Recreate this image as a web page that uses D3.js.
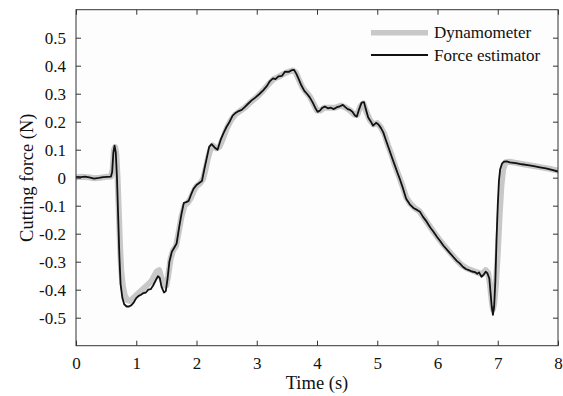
<!DOCTYPE html>
<html><head><meta charset="utf-8">
<script src="https://cdn.jsdelivr.net/npm/d3@7/dist/d3.min.js"></script>
<style>
html,body{margin:0;padding:0;background:#fff;}
svg{display:block;}
text{font-family:"Liberation Serif","Times New Roman",serif;fill:#111;}
</style></head>
<body>
<svg id="chart" width="563" height="396"></svg>
<script>
// ---- data ----
const xTicks = [0,1,2,3,4,5,6,7,8];
const yTicks = [-0.5,-0.4,-0.3,-0.2,-0.1,0,0.1,0.2,0.3,0.4,0.5];
const yTickLabels = ["-0.5","-0.4","-0.3","-0.2","-0.1","0","0.1","0.2","0.3","0.4","0.5"];
const seriesNames = ["Dynamometer","Force estimator"];

const dynamometer = [[0.00,0.002],[0.1,0.003],[0.2,0.002],[0.3,-0.002],[0.4,0.0],[0.5,0.003],[0.58,0.004],[0.61,0.03],[0.63,0.1],[0.65,0.11],[0.67,0.08],[0.69,0.0],[0.71,-0.12],[0.73,-0.24],[0.75,-0.33],[0.78,-0.39],[0.81,-0.42],[0.85,-0.437],[0.90,-0.44],[0.95,-0.43],[1.00,-0.42],[1.05,-0.41],[1.10,-0.40],[1.15,-0.39],[1.20,-0.38],[1.25,-0.37],[1.30,-0.35],[1.34,-0.335],[1.38,-0.33],[1.42,-0.36],[1.46,-0.385],[1.50,-0.385],[1.53,-0.35],[1.57,-0.29],[1.61,-0.26],[1.66,-0.245],[1.70,-0.2],[1.75,-0.14],[1.80,-0.1],[1.85,-0.09],[1.90,-0.075],[1.95,-0.05],[2.00,-0.03],[2.06,-0.02],[2.11,-0.005],[2.15,0.03],[2.19,0.07],[2.23,0.1],[2.27,0.115],[2.33,0.105],[2.38,0.11],[2.44,0.14],[2.50,0.175],[2.57,0.205],[2.64,0.225],[2.72,0.238],[2.80,0.25],[2.90,0.27],[3.00,0.288],[3.10,0.31],[3.20,0.335],[3.28,0.352],[3.36,0.36],[3.44,0.37],[3.52,0.378],[3.60,0.383],[3.65,0.375],[3.70,0.35],[3.76,0.322],[3.82,0.305],[3.88,0.29],[3.94,0.265],[4.00,0.24],[4.06,0.24],[4.12,0.25],[4.20,0.25],[4.30,0.25],[4.40,0.258],[4.48,0.25],[4.55,0.24],[4.62,0.225],[4.67,0.225],[4.72,0.255],[4.77,0.265],[4.82,0.235],[4.88,0.205],[4.94,0.19],[5.00,0.195],[5.06,0.18],[5.12,0.155],[5.18,0.115],[5.24,0.08],[5.30,0.04],[5.36,0.005],[5.42,-0.03],[5.48,-0.07],[5.55,-0.093],[5.62,-0.108],[5.70,-0.12],[5.78,-0.145],[5.86,-0.17],[5.94,-0.195],[6.02,-0.218],[6.10,-0.24],[6.20,-0.265],[6.30,-0.29],[6.40,-0.312],[6.50,-0.325],[6.60,-0.333],[6.68,-0.34],[6.74,-0.345],[6.80,-0.33],[6.84,-0.34],[6.87,-0.38],[6.90,-0.44],[6.92,-0.47],[6.94,-0.45],[6.97,-0.38],[7.00,-0.27],[7.03,-0.14],[7.06,-0.03],[7.09,0.03],[7.13,0.055],[7.20,0.057],[7.30,0.053],[7.45,0.047],[7.60,0.042],[7.75,0.036],[7.90,0.03],[8.00,0.025]];

const forceEstimator = [[0.00,0.003],[0.08,0.002],[0.15,0.004],[0.22,0.001],[0.30,-0.003],[0.38,-0.001],[0.45,0.002],[0.52,0.003],[0.58,0.004],[0.60,0.02],[0.62,0.09],[0.64,0.114],[0.66,0.09],[0.68,0.0],[0.70,-0.14],[0.72,-0.28],[0.74,-0.38],[0.77,-0.43],[0.80,-0.452],[0.84,-0.46],[0.88,-0.46],[0.92,-0.455],[0.96,-0.445],[1.00,-0.43],[1.04,-0.422],[1.08,-0.418],[1.12,-0.412],[1.16,-0.41],[1.20,-0.40],[1.24,-0.398],[1.28,-0.385],[1.32,-0.368],[1.36,-0.352],[1.39,-0.358],[1.42,-0.39],[1.46,-0.41],[1.49,-0.405],[1.52,-0.36],[1.55,-0.30],[1.59,-0.265],[1.63,-0.25],[1.67,-0.235],[1.71,-0.18],[1.75,-0.13],[1.79,-0.09],[1.83,-0.087],[1.87,-0.083],[1.91,-0.06],[1.95,-0.04],[2.00,-0.026],[2.05,-0.018],[2.09,-0.012],[2.13,0.03],[2.17,0.07],[2.21,0.11],[2.25,0.12],[2.30,0.108],[2.35,0.10],[2.40,0.135],[2.45,0.16],[2.50,0.182],[2.55,0.2],[2.60,0.222],[2.64,0.23],[2.70,0.238],[2.75,0.242],[2.80,0.252],[2.86,0.265],[2.92,0.277],[2.98,0.287],[3.04,0.298],[3.11,0.313],[3.17,0.328],[3.22,0.345],[3.27,0.355],[3.31,0.352],[3.36,0.362],[3.42,0.364],[3.47,0.379],[3.53,0.378],[3.58,0.384],[3.62,0.385],[3.66,0.37],[3.70,0.35],[3.74,0.33],[3.79,0.31],[3.84,0.298],[3.88,0.287],[3.93,0.268],[3.97,0.25],[4.01,0.235],[4.05,0.24],[4.09,0.25],[4.13,0.254],[4.18,0.248],[4.23,0.25],[4.28,0.245],[4.33,0.252],[4.38,0.255],[4.43,0.26],[4.47,0.252],[4.51,0.245],[4.55,0.242],[4.59,0.235],[4.63,0.222],[4.66,0.218],[4.70,0.245],[4.74,0.268],[4.78,0.27],[4.81,0.245],[4.85,0.215],[4.89,0.202],[4.93,0.186],[4.98,0.196],[5.02,0.19],[5.06,0.178],[5.10,0.162],[5.15,0.13],[5.20,0.10],[5.24,0.075],[5.29,0.045],[5.34,0.015],[5.38,-0.008],[5.43,-0.04],[5.48,-0.075],[5.54,-0.095],[5.60,-0.108],[5.66,-0.115],[5.71,-0.122],[5.76,-0.14],[5.82,-0.157],[5.88,-0.178],[5.93,-0.192],[5.99,-0.211],[6.05,-0.228],[6.10,-0.243],[6.16,-0.258],[6.21,-0.27],[6.27,-0.285],[6.32,-0.297],[6.37,-0.306],[6.42,-0.318],[6.47,-0.326],[6.52,-0.33],[6.57,-0.335],[6.62,-0.337],[6.66,-0.343],[6.69,-0.338],[6.73,-0.354],[6.77,-0.345],[6.80,-0.336],[6.83,-0.342],[6.86,-0.36],[6.88,-0.41],[6.90,-0.46],[6.92,-0.49],[6.94,-0.46],[6.96,-0.37],[6.98,-0.22],[7.00,-0.10],[7.02,-0.01],[7.04,0.03],[7.07,0.05],[7.10,0.057],[7.15,0.058],[7.20,0.055],[7.30,0.052],[7.40,0.048],[7.50,0.045],[7.60,0.041],[7.70,0.037],[7.80,0.033],[7.90,0.028],[8.00,0.022]];

// ---- layout ----
const L = 76, R = 558, T = 9.7, B = 345.7;
const svg = d3.select("#chart");
const x = d3.scaleLinear().domain([0,8]).range([L,R]);
const y = d3.scaleLinear().domain([-0.6,0.6]).range([B,T]);

svg.append("rect").attr("x",L).attr("y",T).attr("width",R-L).attr("height",B-T).attr("fill","#fdfdfd");

svg.append("clipPath").attr("id","clip").append("rect")
  .attr("x",L).attr("y",T).attr("width",R-L).attr("height",B-T);

const line = d3.line().x(d=>x(d[0])).y(d=>y(d[1]));
const g = svg.append("g").attr("clip-path","url(#clip)");
g.append("path").datum(dynamometer).attr("d",line)
  .attr("fill","none").attr("stroke","#c8c8c8").attr("stroke-width",6)
  .attr("stroke-linejoin","round").attr("stroke-linecap","round");
g.append("path").datum(forceEstimator).attr("d",line)
  .attr("fill","none").attr("stroke","#111").attr("stroke-width",1.8)
  .attr("stroke-linejoin","round");

// axes (ticks inward on all four sides)
const axStyle = sel => {
  sel.select(".domain").remove();
  sel.selectAll(".tick line").attr("stroke","#333");
  sel.selectAll(".tick text").style("font-size","17px").style("font-family","'Liberation Serif',serif").attr("fill","#111");
};
svg.append("g").attr("transform",`translate(0,${B})`)
  .call(d3.axisBottom(x).tickValues(xTicks).tickFormat(d3.format("d")).tickSizeInner(-5).tickSizeOuter(0).tickPadding(11))
  .call(axStyle);
svg.append("g").attr("transform",`translate(0,${T})`)
  .call(d3.axisTop(x).tickValues(xTicks).tickFormat("").tickSizeInner(-5).tickSizeOuter(0))
  .call(axStyle);
svg.append("g").attr("transform",`translate(${L},0)`)
  .call(d3.axisLeft(y).tickValues(yTicks).tickFormat((d,i)=>yTickLabels[i]).tickSizeInner(-5).tickSizeOuter(0).tickPadding(10))
  .call(axStyle);
svg.append("g").attr("transform",`translate(${R},0)`)
  .call(d3.axisRight(y).tickValues(yTicks).tickFormat("").tickSizeInner(-5).tickSizeOuter(0))
  .call(axStyle);

svg.append("rect").attr("x",L).attr("y",T).attr("width",R-L).attr("height",B-T)
  .attr("fill","none").attr("stroke","#333").attr("stroke-width",1);

// axis titles
svg.append("text").attr("x",(L+R)/2).attr("y",389).attr("text-anchor","middle")
  .style("font-size","18.5px").text("Time (s)");
svg.append("text").attr("transform",`translate(33,${(T+B)/2}) rotate(-90)`).attr("text-anchor","middle")
  .style("font-size","18.5px").text("Cutting force (N)");

// legend
const leg = svg.append("g");
const legStyles = [{stroke:"#c8c8c8",w:5.5,y:32.7},{stroke:"#111",w:1.8,y:55}];
seriesNames.forEach((name,i)=>{
  const s = legStyles[i];
  leg.append("line").attr("x1",371).attr("x2",428).attr("y1",s.y).attr("y2",s.y)
    .attr("stroke",s.stroke).attr("stroke-width",s.w);
  leg.append("text").attr("x",434).attr("y",s.y+5.5).style("font-size","17px").text(name);
});
</script>
</body></html>
